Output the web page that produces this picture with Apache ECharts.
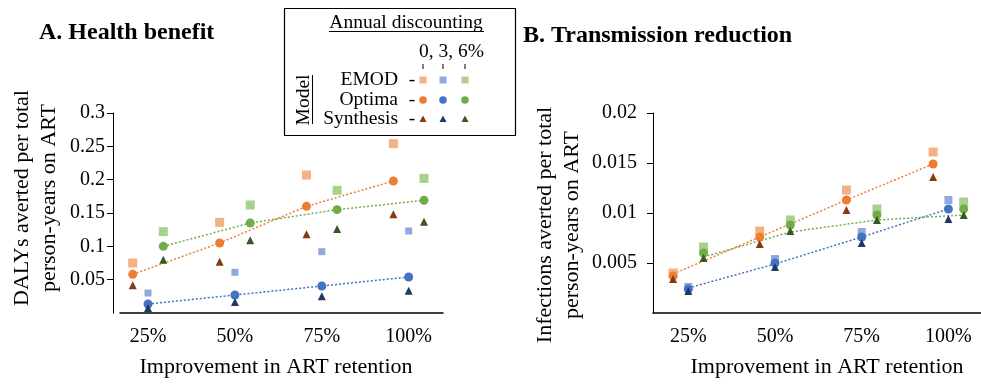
<!DOCTYPE html>
<html>
<head>
<meta charset="utf-8">
<script src="https://cdn.jsdelivr.net/npm/echarts@6/dist/echarts.min.js"></script>
<style>
html, body { margin: 0; padding: 0; background: #fff; }
#chart { width: 981px; height: 389px; }
</style>
</head>
<body>
<div id="chart"></div>
<script>
// improvement in ART retention (%), one category per group
const retention = [25, 50, 75, 100];
const discounts = ['0%', '3%', '6%'];
const models = ['EMOD', 'Optima', 'Synthesis'];

// A. DALYs averted per total person-years on ART -- rows: 0%, 3%, 6% discounting
const dalyEmod = [
    [0.075, 0.136, 0.207, 0.254],
    [0.030, 0.061, 0.092, 0.123],
    [0.122, 0.162, 0.184, 0.202]
];
const dalyOptima = [
    [0.058, 0.105, 0.160, 0.198],
    [0.0135, 0.027, 0.0405, 0.054],
    [0.100, 0.135, 0.155, 0.169]
];
const dalySynthesis = [
    [0.0415, 0.077, 0.118, 0.148],
    [0.0076, 0.0166, 0.025, 0.0335],
    [0.080, 0.109, 0.126, 0.137]
];
// dotted trend lines drawn over panel A
const dalyTrend = [
    [0.058, 0.105, 0.160, 0.198],
    [0.0135, 0.027, 0.0405, 0.054],
    [0.100, 0.135, 0.155, 0.169]
];

// B. Infections averted per total person-years on ART
const infEmod = [
    [0.0040, 0.0082, 0.0123, 0.0161],
    [0.0026, 0.0054, 0.0081, 0.0113],
    [0.0066, 0.0093, 0.0104, 0.0111]
];
const infOptima = [
    [0.0037, 0.0076, 0.0113, 0.0149],
    [0.0024, 0.0050, 0.0076, 0.0104],
    [0.0060, 0.0088, 0.0098, 0.0104]
];
const infSynthesis = [
    [0.0034, 0.0069, 0.0103, 0.0136],
    [0.0022, 0.0046, 0.0070, 0.0094],
    [0.0055, 0.0082, 0.0093, 0.0098]
];
const infTrend = [
    [0.0039, 0.0076, 0.0113, 0.0149],
    [0.0025, 0.0049, 0.0076, 0.0104],
    [0.0056, 0.0081, 0.0093, 0.0098]
];

const yTicksA = [0.05, 0.1, 0.15, 0.2, 0.25, 0.3];
const yTicksB = [0.005, 0.01, 0.015, 0.02];

// styling
const serif = '"Liberation Serif", "Times New Roman", serif';
const colors = {
    EMOD: ['#F4B183', '#8FAADC', '#A9D18E'],
    Optima: ['#ED7D31', '#4472C4', '#70AD47'],
    Synthesis: ['#843C0C', '#203864', '#385723']
};
const symbols = { EMOD: 'rect', Optima: 'circle', Synthesis: 'triangle' };
const zOrder = { EMOD: 3, Optima: 4, Synthesis: 5 };
const shift = [-4.4, 0, 4.4]; // horizontal nudge per discount rate

const panels = [
    { data: { EMOD: dalyEmod, Optima: dalyOptima, Synthesis: dalySynthesis }, trend: dalyTrend, emodSizes: [9, 7, 9] },
    { data: { EMOD: infEmod, Optima: infOptima, Synthesis: infSynthesis }, trend: infTrend, emodSizes: [9, 8, 9] }
];

const series = [];
panels.forEach((p, g) => {
    discounts.forEach((d, k) => {
        series.push({
            type: 'line',
            xAxisIndex: g, yAxisIndex: g,
            data: retention.map((r, i) => [r + shift[k], p.trend[k][i]]),
            symbol: 'none',
            lineStyle: { color: colors.Optima[k], width: 1.5, type: [2, 2] },
            z: 2,
            silent: true
        });
    });
    models.forEach((m) => {
        discounts.forEach((d, k) => {
            series.push({
                type: 'scatter',
                name: m + ' ' + d,
                xAxisIndex: g, yAxisIndex: g,
                data: retention.map((r, i) => [r + shift[k], p.data[m][k][i]]),
                symbol: symbols[m],
                symbolSize: m === 'EMOD' ? p.emodSizes[k] : (m === 'Optima' ? 9 : 8),
                itemStyle: { color: colors[m][k], opacity: 1 },
                z: zOrder[m]
            });
        });
    });
});

// text style helper for graphic elements
function txt(text, size, align, extra) {
    return Object.assign({
        text: text, fontFamily: serif, fontSize: size, fill: '#000',
        textAlign: align, textVerticalAlign: 'middle'
    }, extra || {});
}

function xAxisFor(g, min, max) {
    return {
        gridIndex: g, type: 'value', min: min, max: max,
        axisLine: { show: true, onZero: false, lineStyle: { color: '#000', width: 1.5 } },
        axisTick: { show: false },
        splitLine: { show: false },
        axisLabel: {
            customValues: retention,
            formatter: (v) => v + '%',
            fontFamily: serif, fontSize: 20, color: '#000', margin: 14
        }
    };
}

function yAxisFor(g, max, ticks, offset, margin) {
    return {
        gridIndex: g, type: 'value', min: 0, max: max, offset: offset,
        axisLine: { show: true, lineStyle: { color: '#000', width: 1 } },
        axisTick: { show: true, customValues: ticks, length: 6, lineStyle: { color: '#000' } },
        splitLine: { show: false },
        axisLabel: {
            customValues: ticks,
            formatter: (v) => String(v),
            fontFamily: serif, fontSize: 20, color: '#000', margin: margin
        }
    };
}

const legendX = [423, 443, 465];
const legendRows = [
    { name: 'EMOD', y: 80, kind: 'rect' },
    { name: 'Optima', y: 100, kind: 'circle' },
    { name: 'Synthesis', y: 119, kind: 'triangle' }
];

const legendGraphics = [
    { type: 'rect', shape: { x: 284.5, y: 8.5, width: 231, height: 127 }, style: { fill: '#fff', stroke: '#000', lineWidth: 1.2 }, z: 100 },
    { type: 'text', x: 406, y: 23, style: txt('Annual discounting', 19.5, 'center'), z: 101 },
    { type: 'line', shape: { x1: 329, y1: 31.5, x2: 484, y2: 31.5 }, style: { stroke: '#000', lineWidth: 1 }, z: 101 },
    { type: 'text', x: 484, y: 52, style: txt('0, 3, 6%', 19.5, 'right'), z: 101 },
    { type: 'text', x: 304, y: 100, rotation: Math.PI / 2, style: txt('Model', 19.5, 'center'), z: 101 },
    { type: 'line', shape: { x1: 312.5, y1: 75, x2: 312.5, y2: 124 }, style: { stroke: '#000', lineWidth: 1 }, z: 101 }
];
legendX.forEach((x) => {
    legendGraphics.push({ type: 'line', shape: { x1: x, y1: 64, x2: x, y2: 69 }, style: { stroke: '#000', lineWidth: 1 }, z: 101 });
});
legendRows.forEach((row) => {
    legendGraphics.push({ type: 'text', x: 398, y: row.y, style: txt(row.name, 19.5, 'right'), z: 101 });
    legendGraphics.push({ type: 'text', x: 412, y: row.y, style: txt('-', 19.5, 'center'), z: 101 });
    legendX.forEach((x, k) => {
        const fill = colors[row.name][k];
        if (row.kind === 'rect') {
            legendGraphics.push({ type: 'rect', shape: { x: x - 3.5, y: row.y - 3.5, width: 7, height: 7 }, style: { fill: fill }, z: 101 });
        } else if (row.kind === 'circle') {
            legendGraphics.push({ type: 'circle', shape: { cx: x, cy: row.y, r: 3.8 }, style: { fill: fill }, z: 101 });
        } else {
            legendGraphics.push({ type: 'polygon', shape: { points: [[x, row.y - 3.5], [x + 3.5, row.y + 3], [x - 3.5, row.y + 3]] }, style: { fill: fill }, z: 101 });
        }
    });
});

const option = {
    backgroundColor: '#fff',
    animation: false,
    grid: [
        { left: 120, top: 113, width: 323, height: 200 },
        { left: 653, top: 113, width: 328, height: 200 }
    ],
    xAxis: [xAxisFor(0, 16.94, 109.87), xAxisFor(1, 14.82, 109.4)],
    yAxis: [yAxisFor(0, 0.3, yTicksA, 7, 8), yAxisFor(1, 0.02, yTicksB, 0, 16)],
    series: series,
    graphic: [
        { type: 'text', x: 39, y: 33, style: txt('A. Health benefit', 24, 'left', { fontWeight: 'bold' }) },
        { type: 'text', x: 523, y: 36, style: txt('B. Transmission reduction', 24, 'left', { fontWeight: 'bold' }) },
        { type: 'text', x: 36, y: 198, rotation: Math.PI / 2, style: txt('DALYs averted per total\nperson-years on ART', 22, 'center', { lineHeight: 27 }) },
        { type: 'text', x: 559, y: 225, rotation: Math.PI / 2, style: txt('Infections averted per total\nperson-years on ART', 22, 'center', { lineHeight: 27 }) },
        { type: 'text', x: 276, y: 367, style: txt('Improvement in ART retention', 22, 'center') },
        { type: 'text', x: 827, y: 367, style: txt('Improvement in ART retention', 22, 'center') }
    ].concat(legendGraphics)
};

const chart = echarts.init(document.getElementById('chart'));
chart.setOption(option);
</script>
</body>
</html>
